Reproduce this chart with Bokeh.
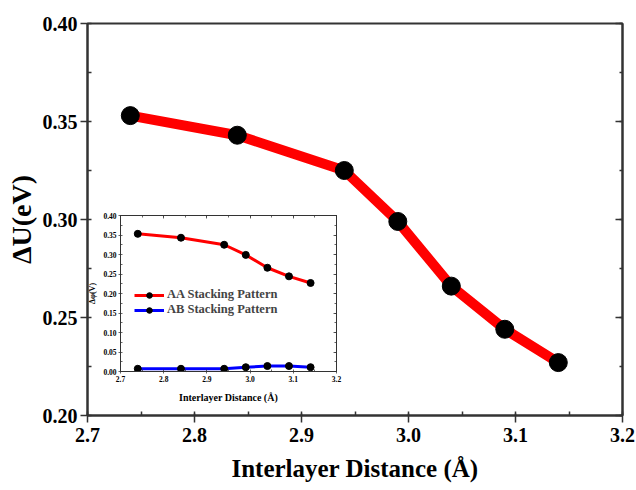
from bokeh.plotting import figure
from bokeh.models import (LinearAxis, SingleIntervalTicker, NumeralTickFormatter,
                          CustomJSTickFormatter, Legend, LegendItem)
from bokeh.layouts import column
from bokeh.embed import file_html
from bokeh.resources import INLINE

distance = [2.74, 2.84, 2.94, 2.99, 3.04, 3.09, 3.14]
delta_u = [0.353, 0.343, 0.325, 0.299, 0.266, 0.244, 0.227]
aa_phi = [0.353, 0.343, 0.325, 0.299, 0.266, 0.244, 0.227]
ab_phi = [0.007, 0.007, 0.007, 0.011, 0.014, 0.014, 0.011]
x_label = "Interlayer Distance (Å)"
y_label_main = "ΔU(eV)"
y_label_inset = "Δφ(V)"
series_names = ["AA Stacking Pattern", "AB Stacking Pattern"]

FONT = "Liberation Serif"
AX = "#333333"


def style_axis(ax, label_size, tick_size, out_major, out_minor, in_major, in_minor, lw, show_labels=True):
    ax.axis_line_color = AX
    ax.axis_line_width = lw
    ax.major_tick_line_color = AX
    ax.minor_tick_line_color = AX
    ax.major_tick_line_width = lw * 0.75
    ax.minor_tick_line_width = lw * 0.75
    ax.major_tick_out = out_major
    ax.minor_tick_out = out_minor
    ax.major_tick_in = in_major
    ax.minor_tick_in = in_minor
    ax.axis_label_text_font = FONT
    ax.axis_label_text_font_style = "bold"
    ax.axis_label_text_font_size = label_size
    ax.axis_label_text_color = "black"
    ax.major_label_text_font = FONT
    ax.major_label_text_font_style = "bold"
    ax.major_label_text_color = "black"
    ax.major_label_text_font_size = tick_size
    if not show_labels:
        ax.formatter = CustomJSTickFormatter(code="return ''")
        ax.major_label_standoff = 0
        ax.major_label_text_font_size = "1px"


# ---------------- main plot ----------------
p = figure(width=636, height=490, x_range=(2.7, 3.2), y_range=(0.2, 0.4),
           output_backend="svg", toolbar_location=None,
           min_border_left=87, min_border_right=14, min_border_top=23, min_border_bottom=75)
p.grid.visible = False
p.outline_line_color = AX
p.outline_line_width = 2
p.background_fill_color = "white"
p.border_fill_color = "white"

p.xaxis.ticker = SingleIntervalTicker(interval=0.1, num_minor_ticks=2)
p.yaxis.ticker = SingleIntervalTicker(interval=0.05, num_minor_ticks=2)
p.xaxis.formatter = NumeralTickFormatter(format="0.0")
p.yaxis.formatter = NumeralTickFormatter(format="0.00")
p.xaxis.axis_label = x_label
p.yaxis.axis_label = y_label_main
style_axis(p.xaxis[0], "25px", "20px", 7, 0, 2, 4, 2)
style_axis(p.yaxis[0], "28px", "20px", 7, 0, 0, 4, 2)
p.xaxis.major_label_standoff = 5
p.yaxis.major_label_standoff = 3
p.xaxis.axis_label_standoff = 10
p.yaxis.axis_label_standoff = 3

right = LinearAxis(ticker=SingleIntervalTicker(interval=0.05, num_minor_ticks=2))
style_axis(right, "1px", "1px", 0, 0, 7, 3, 2, show_labels=False)
p.add_layout(right, "right")

p.line(distance, delta_u, line_color="#ff0000", line_width=10)
p.scatter(distance, delta_u, size=18, fill_color="black", line_color="black")

# ---------------- inset ----------------
q = figure(width=317, height=198, x_range=(2.7, 3.2), y_range=(0.0, 0.4),
           output_backend="svg", toolbar_location=None,
           min_border_left=87, min_border_right=14, min_border_top=8, min_border_bottom=33)
q.grid.visible = False
q.outline_line_color = AX
q.outline_line_width = 1
q.background_fill_color = "white"
q.border_fill_alpha = 0
q.xaxis.ticker = SingleIntervalTicker(interval=0.1, num_minor_ticks=2)
q.yaxis.ticker = SingleIntervalTicker(interval=0.05, num_minor_ticks=2)
q.xaxis.formatter = NumeralTickFormatter(format="0.0")
q.yaxis.formatter = NumeralTickFormatter(format="0.00")
q.xaxis.axis_label = x_label
q.yaxis.axis_label = y_label_inset
style_axis(q.xaxis[0], "10px", "7.5px", 2, 0, 0, 2, 1)
style_axis(q.yaxis[0], "8px", "7.5px", 2, 0, 0, 2, 1)
q.xaxis.major_label_standoff = 2
q.yaxis.major_label_standoff = 2
q.xaxis.axis_label_standoff = 7
q.yaxis.axis_label_standoff = 3

q_right = LinearAxis(ticker=SingleIntervalTicker(interval=0.05, num_minor_ticks=2))
style_axis(q_right, "1px", "1px", 0, 0, 3, 2, 1, show_labels=False)
q.add_layout(q_right, "right")
q_top = LinearAxis(ticker=SingleIntervalTicker(interval=0.1, num_minor_ticks=2))
style_axis(q_top, "1px", "1px", 0, 0, 3, 2, 1, show_labels=False)
q.add_layout(q_top, "above")

l1 = q.line(distance, aa_phi, line_color="#ff0000", line_width=3)
s1 = q.scatter(distance, aa_phi, size=7, fill_color="black", line_color="black")
l2 = q.line(distance, ab_phi, line_color="#0000ff", line_width=3)
s2 = q.scatter(distance, ab_phi, size=7, fill_color="black", line_color="black")

legend = Legend(items=[LegendItem(label=series_names[0], renderers=[l1, s1]),
                       LegendItem(label=series_names[1], renderers=[l2, s2])],
                location=(14, 54), border_line_color=None, background_fill_alpha=0,
                label_text_font=FONT, label_text_font_style="bold",
                label_text_font_size="12.5px", glyph_width=30, glyph_height=14,
                label_height=14, spacing=0, padding=0, margin=0, label_standoff=3)
q.add_layout(legend)

q.styles = {"position": "absolute", "left": "33px", "top": "207px"}

layout = column(p, q)
open("out.html", "w").write(file_html(layout, INLINE))
